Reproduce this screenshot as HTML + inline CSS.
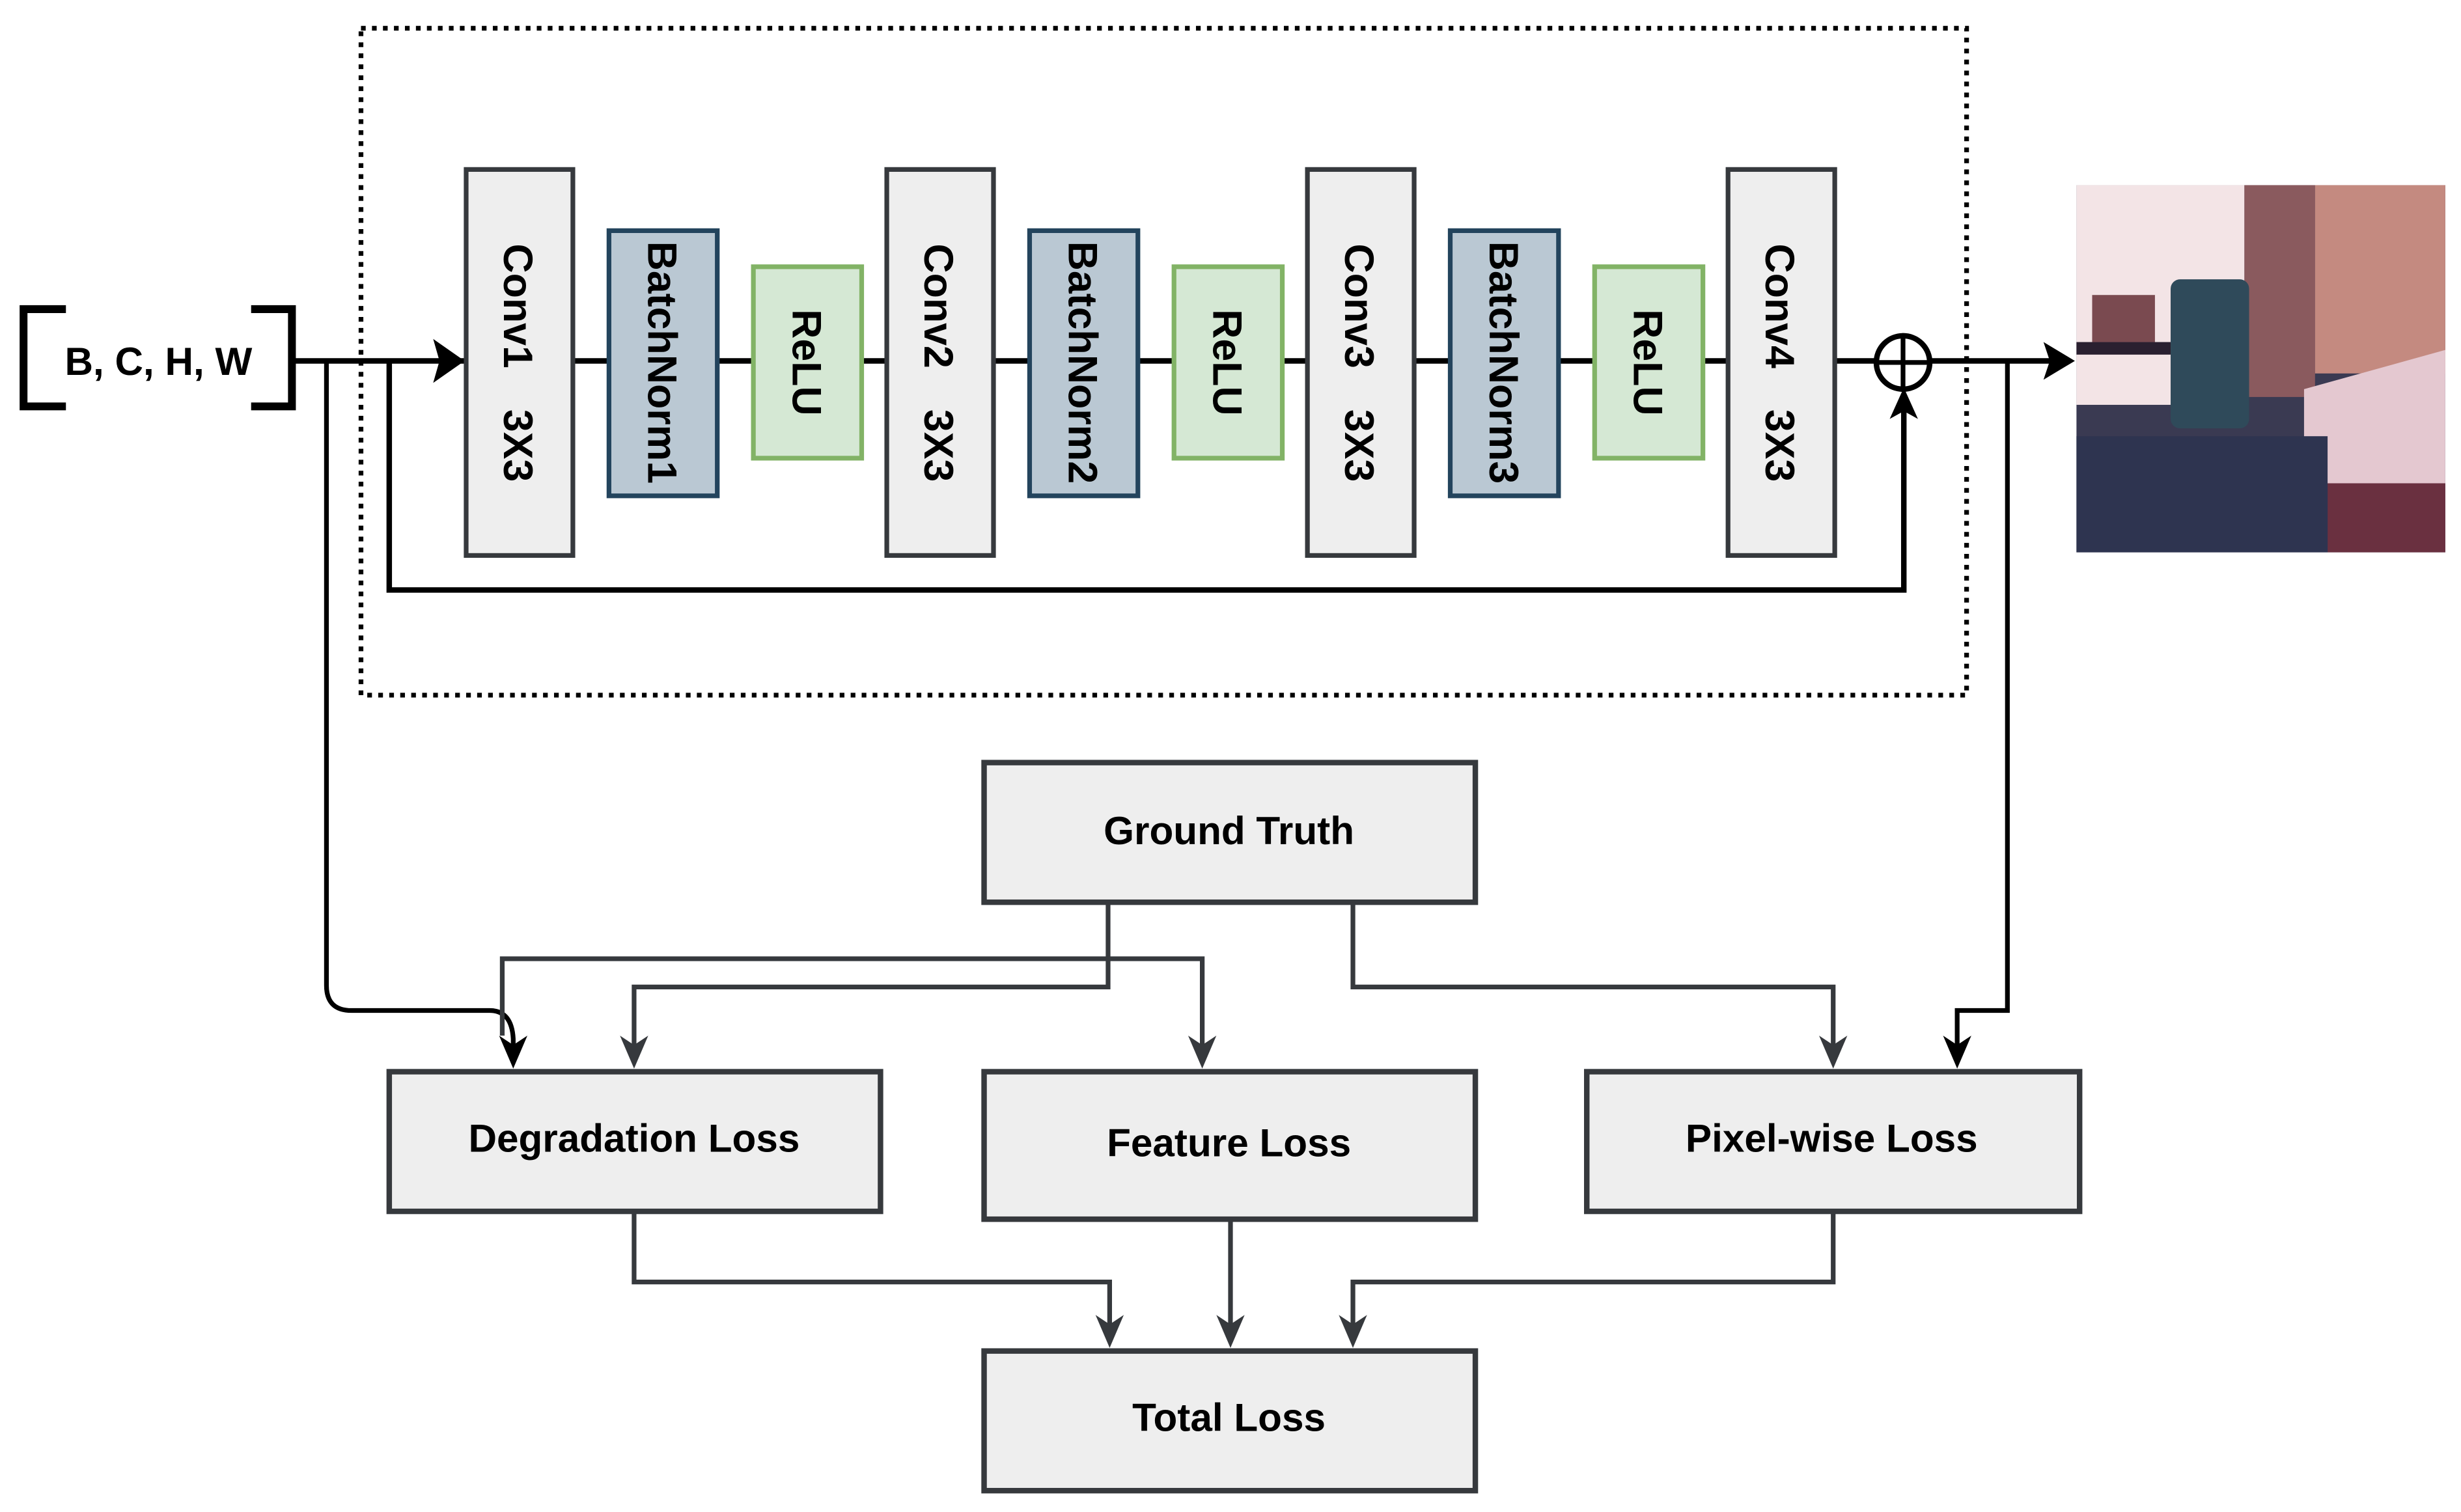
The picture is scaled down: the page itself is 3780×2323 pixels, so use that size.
<!DOCTYPE html>
<html><head><meta charset="utf-8"><style>
html,body{margin:0;padding:0;background:#fff;}
svg{display:block;}
text{font-family:"Liberation Sans",Arial,sans-serif;font-weight:bold;fill:#000;}
</style></head><body>
<svg width="3780" height="2323" viewBox="0 0 1568 963.6" preserveAspectRatio="none" xmlns="http://www.w3.org/2000/svg">
<rect x="0" y="0" width="1568" height="964" fill="#fff"/>
<!-- dotted box -->
<rect x="230" y="18" width="1023" height="425" fill="none" stroke="#000" stroke-width="3" stroke-dasharray="3,4"/>

<!-- input bracket -->
<path d="M42,197 H15 V259 H42" fill="none" stroke="#000" stroke-width="5"/>
<path d="M160,197 H186 V259 H160" fill="none" stroke="#000" stroke-width="5"/>
<text x="101" y="239" font-size="25" text-anchor="middle">B, C, H, W</text>

<!-- main line -->
<line x1="186" y1="230" x2="1195" y2="230" stroke="#000" stroke-width="3.5"/>
<line x1="1229" y1="230" x2="1312" y2="230" stroke="#000" stroke-width="3.5"/>
<polygon points="1302,218 1322,230 1302,242 1306,230" fill="#000"/>
<polygon points="276,216 296,230 276,244 280,230" fill="#000"/>
<!-- skip -->
<path d="M248,230 V376 H1213 V258" fill="none" stroke="#000" stroke-width="3.5"/>
<polygon points="1204,267 1213,247 1222,267 1213,262" fill="#000"/>
<circle cx="1212.5" cy="231" r="17" fill="#fff" stroke="#000" stroke-width="3.5"/>
<line x1="1212.5" y1="214" x2="1212.5" y2="248" stroke="#000" stroke-width="3"/>
<line x1="1195.5" y1="231" x2="1229.5" y2="231" stroke="#000" stroke-width="3"/>

<!-- left long line -->
<path d="M208,230 V628 Q208,644 224,644 H312 Q326,644 327,662 V672" fill="none" stroke="#000" stroke-width="3"/>
<polygon points="318,660 327,681 336,660 327,666" fill="#000"/>
<!-- right long line -->
<path d="M1279,230 V644 H1247 V672" fill="none" stroke="#000" stroke-width="3"/>
<polygon points="1238,660 1247,681 1256,660 1247,666" fill="#000"/>

<!-- blocks -->
<g stroke-width="3">
<rect x="297" y="108" width="68" height="246" fill="#eeeeee" stroke="#36393d"/>
<rect x="388" y="147" width="69" height="169" fill="#bac8d3" stroke="#23445d"/>
<rect x="480" y="170" width="69" height="122" fill="#d5e8d4" stroke="#82b366"/>
<rect x="565" y="108" width="68" height="246" fill="#eeeeee" stroke="#36393d"/>
<rect x="656" y="147" width="69" height="169" fill="#bac8d3" stroke="#23445d"/>
<rect x="748" y="170" width="69" height="122" fill="#d5e8d4" stroke="#82b366"/>
<rect x="833" y="108" width="68" height="246" fill="#eeeeee" stroke="#36393d"/>
<rect x="924" y="147" width="69" height="169" fill="#bac8d3" stroke="#23445d"/>
<rect x="1016" y="170" width="69" height="122" fill="#d5e8d4" stroke="#82b366"/>
<rect x="1101" y="108" width="68" height="246" fill="#eeeeee" stroke="#36393d"/>
</g>
<g font-size="26" text-anchor="middle">
<text transform="translate(321,195) rotate(90)">Conv1</text>
<text transform="translate(321,284) rotate(90)">3X3</text>
<text transform="translate(413,231) rotate(90)">BatchNorm1</text>
<text transform="translate(505,231) rotate(90)">ReLU</text>
<text transform="translate(589,195) rotate(90)">Conv2</text>
<text transform="translate(589,284) rotate(90)">3X3</text>
<text transform="translate(681,231) rotate(90)">BatchNorm2</text>
<text transform="translate(773,231) rotate(90)">ReLU</text>
<text transform="translate(857,195) rotate(90)">Conv3</text>
<text transform="translate(857,284) rotate(90)">3X3</text>
<text transform="translate(949,231) rotate(90)">BatchNorm3</text>
<text transform="translate(1041,231) rotate(90)">ReLU</text>
<text transform="translate(1125,195) rotate(90)">Conv4</text>
<text transform="translate(1125,284) rotate(90)">3X3</text>
</g>

<!-- photo approximation -->
<g transform="translate(1323,118)">
<rect x="0" y="0" width="235" height="234" fill="#3a3a52"/>
<rect x="0" y="0" width="107" height="140" fill="#f3e4e6"/>
<rect x="107" y="0" width="45" height="135" fill="#8a5a5e"/>
<rect x="152" y="0" width="83" height="120" fill="#c48a80"/>
<rect x="60" y="60" width="50" height="95" fill="#2f4a5a" rx="6"/>
<rect x="10" y="70" width="40" height="30" fill="#7a4a50"/>
<rect x="0" y="100" width="60" height="8" fill="#2a2030"/>
<polygon points="145,130 235,105 235,190 145,190" fill="#e4c8d0"/>
<rect x="160" y="190" width="75" height="44" fill="#6a3040"/>
<rect x="0" y="160" width="160" height="74" fill="#2e3450"/>
</g>

<!-- lower boxes -->
<g fill="#eeeeee" stroke="#36393d" stroke-width="3.5">
<rect x="627" y="486" width="313" height="89"/>
<rect x="248" y="683" width="313" height="89"/>
<rect x="627" y="683" width="313" height="94"/>
<rect x="1011" y="683" width="314" height="89"/>
<rect x="627" y="861" width="313" height="89"/>
</g>
<g font-size="25" text-anchor="middle">
<text x="783" y="538">Ground Truth</text>
<text x="404" y="734">Degradation Loss</text>
<text x="783" y="737">Feature Loss</text>
<text x="1167" y="734">Pixel-wise Loss</text>
<text x="783" y="912">Total Loss</text>
</g>

<!-- connectors from GT -->
<g fill="none" stroke="#36393d" stroke-width="3">
<path d="M706,575 V629 H404 V672"/>
<path d="M320,660 V611 H766 V672"/>
<path d="M862,575 V629 H1168 V672"/>
<path d="M404,772 V817 H707 V850"/>
<path d="M784,777 V850"/>
<path d="M1168,772 V817 H862 V850"/>
</g>
<g fill="#36393d">
<polygon points="395,660 404,681 413,660 404,666"/>
<polygon points="757,660 766,681 775,660 766,666"/>
<polygon points="1159,660 1168,681 1177,660 1168,666"/>
<polygon points="698,838 707,859 716,838 707,844"/>
<polygon points="775,838 784,859 793,838 784,844"/>
<polygon points="853,838 862,859 871,838 862,844"/>
</g>
</svg>
</body></html>
